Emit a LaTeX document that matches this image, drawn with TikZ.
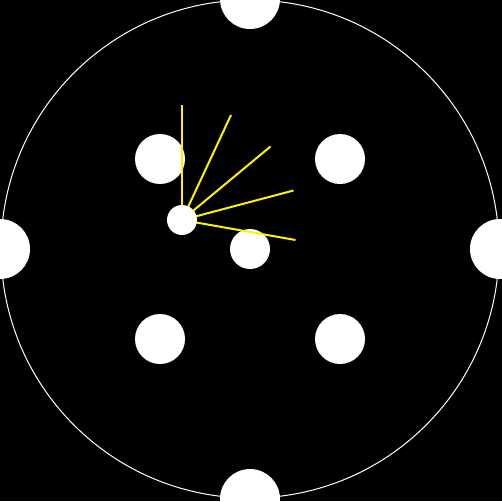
\documentclass[tikz,border=0pt]{standalone}
\begin{document}
\begin{tikzpicture}[x=1pt,y=-1pt,
  dot/.style={circle,fill=white,draw=none,inner sep=0pt,minimum size=#1},
  ray/.style={draw=yellow,line width=2pt}]
\fill[black] (0,0) rectangle (502,501);
\useasboundingbox (0,0) rectangle (502,501);
\draw[white,line width=1pt] (250,249) circle[radius=249];
\node[dot=60pt] (top) at (250,-1) {};
\node[dot=60pt] (bot) at (250,499) {};
\node[dot=60pt] (lft) at (0,249) {};
\node[dot=60pt] (rgt) at (500,249) {};
\node[dot=50pt] (tl) at (160,159) {};
\node[dot=50pt] (tr) at (340,159) {};
\node[dot=50pt] (bl) at (160,339) {};
\node[dot=50pt] (br) at (340,339) {};
\node[dot=40pt] (ctr) at (250,249) {};
\coordinate (o) at (182,220);
\coordinate (r1) at (182,105);
\coordinate (r2) at (231,115);
\coordinate (r3) at (270.5,146.5);
\coordinate (r4) at (293.5,190.5);
\coordinate (r5) at (295.5,240);
\foreach \r in {r1,r2,r3,r4,r5} \draw[ray] (o) -- (\r);
\node[dot=30pt] (sm) at (o) {};
\end{tikzpicture}
\end{document}
